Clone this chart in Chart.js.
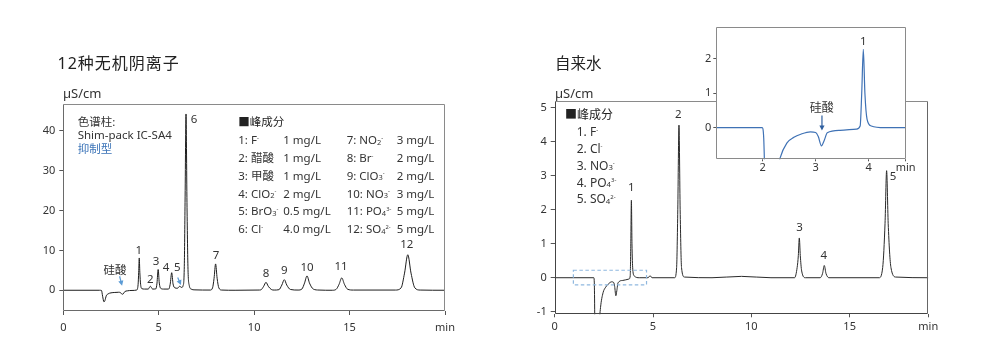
<!DOCTYPE html>
<html><head><meta charset="utf-8">
<script src="https://cdn.jsdelivr.net/npm/chart.js@4.4.1/dist/chart.umd.min.js"></script>
<style>
body{margin:0;width:981px;height:357px;background:#fff;position:relative;overflow:hidden;font-family:'Noto Sans','Noto Sans CJK SC',sans-serif;color:#333}
canvas{position:absolute}
.t{position:absolute;white-space:nowrap;line-height:1}
.sp{font-size:0.5em;position:relative;top:-0.75em}
.sb{font-size:0.65em;position:relative;top:0.05em}
</style></head><body>
<canvas id="cL" width="480" height="357" style="left:0;top:0"></canvas>
<canvas id="cR" width="470" height="357" style="left:490px;top:0"></canvas>
<canvas id="cI" width="262" height="170" style="left:680px;top:15px"></canvas>
<div id="overlay"></div>
<script>
// ---------------- DATA ----------------
// Left chromatogram: 12 inorganic anions (time in min, signal in µS/cm)
const leftTimes = [
  0, 1.9, 2.0, 2.06, 2.13, 2.18, 2.25, 2.35, 2.5, 2.7, 2.9, 3.0, 3.08, 3.14, 3.22, 3.35, 3.6,
  3.84, 3.92, 3.95, 3.98, 4.01, 4.05, 4.12, 4.25,
  4.45, 4.56, 4.68,
  4.85, 4.91, 4.97, 5.03, 5.1, 5.25,
  5.52, 5.6, 5.68, 5.75, 5.85,
  5.98, 6.1, 6.2,
  6.28, 6.34, 6.38, 6.43, 6.48, 6.53, 6.6, 6.7, 6.9,
  7.7, 7.82, 7.9, 7.98, 8.06, 8.15, 8.3,
  9.0, 10.2, 10.35, 10.5, 10.62, 10.74, 10.9,
  11.05, 11.3, 11.45, 11.58, 11.71, 11.9,
  12.3, 12.5, 12.64, 12.77, 12.9, 13.1, 13.4,
  14.1, 14.3, 14.45, 14.59, 14.73, 14.9, 15.2,
  17.4, 17.7, 17.88, 18.05, 18.22, 18.42, 18.7, 20
];
const leftSignal = [
  0, 0, -0.05, -1.5, -2.9, -2.6, -1.4, -0.9, -0.65, -0.55, -0.5, -0.6, -1.0, -0.9, -0.35, -0.15, -0.05,
  0.05, 1.5, 4.5, 8.1, 4.5, 1.5, 0.4, 0.3,
  0.3, 1.0, 0.3,
  0.35, 1.8, 5.2, 1.8, 0.5, 0.3,
  0.3, 1.5, 4.4, 1.6, 0.6,
  0.5, 1.0, 0.7,
  1.2, 6.0, 22, 44.2, 22, 6.0, 1.2, 0.3, 0.1,
  0.05, 0.6, 3.0, 6.6, 3.0, 0.6, 0.05,
  0, 0.05, 0.1, 1.0, 2.0, 1.0, 0.2,
  0.05, 0.15, 1.3, 2.65, 1.3, 0.2,
  0.05, 0.3, 1.8, 3.6, 1.8, 0.3, 0.05,
  0, 0.25, 1.5, 3.1, 1.5, 0.25, 0.05,
  0.05, 0.6, 4.3, 8.9, 4.3, 0.6, 0.05, 0
];
const leftPeakNumbers = ['1','2','3','4','5','6','7','8','9','10','11','12'];
const leftPeakTimes   = [3.98, 4.56, 4.97, 5.68, 6.1, 6.43, 7.98, 10.62, 11.58, 12.77, 14.59, 18.05];
const leftPeakHeights = [8.1, 1.0, 5.2, 4.4, 1.0, 44.2, 6.6, 2.0, 2.65, 3.6, 3.1, 8.9];
const leftXTicks = [0, 5, 10, 15, 20];
const leftYTicks = [0, 10, 20, 30, 40];
const leftIonsA = ['1: F<span class="sp">-</span>', '2: 醋酸', '3: 甲酸', '4: ClO<span class="sb">2</span><span class="sp">-</span>', '5: BrO<span class="sb">3</span><span class="sp">-</span>', '6: Cl<span class="sp">-</span>'];
const leftConcA = ['1 mg/L', '1 mg/L', '1 mg/L', '2 mg/L', '0.5 mg/L', '4.0 mg/L'];
const leftIonsB = ['7: NO<span class="sb">2</span><span class="sp">-</span>', '8: Br<span class="sp">-</span>', '9: ClO<span class="sb">3</span><span class="sp">-</span>', '10: NO<span class="sb">3</span><span class="sp">-</span>', '11: PO<span class="sb">4</span><span class="sp">3-</span>', '12: SO<span class="sb">4</span><span class="sp">2-</span>'];
const leftConcB = ['3 mg/L', '2 mg/L', '2 mg/L', '3 mg/L', '5 mg/L', '5 mg/L'];

// Right chromatogram: tap water
const rightTimes = [
  0, 1.99, 2.02, 2.06, 2.15, 2.25, 2.33, 2.46, 2.59, 2.72, 2.9, 3.0, 3.05, 3.11, 3.16, 3.22, 3.46, 3.77,
  3.84, 3.87, 3.9, 3.93, 3.97, 4.05, 4.3,
  4.75, 4.85, 4.95,
  6.1, 6.2, 6.26, 6.32, 6.38, 6.45, 6.6,
  8.0, 9.5, 11.0,
  12.2, 12.33, 12.39, 12.44, 12.49, 12.56, 12.75,
  13.5, 13.62, 13.71, 13.8, 13.95,
  16.5, 16.68, 16.8, 16.88, 16.96, 17.1, 17.35, 19
];
const rightSignal = [
  0, 0, -0.3, -2.5, -3.2, -1.5, -0.88, -0.44, -0.28, -0.19, -0.12, -0.14, -0.26, -0.53, -0.38, -0.15, -0.08, -0.04,
  0.05, 1.0, 2.28, 1.0, 0.25, 0.05, 0,
  0, 0.06, 0,
  0, 0.3, 2.0, 4.49, 2.0, 0.3, 0.02,
  0, 0.04, 0,
  0, 0.3, 0.65, 1.17, 0.65, 0.2, 0,
  0, 0.12, 0.36, 0.12, 0,
  0, 0.3, 1.6, 3.15, 1.6, 0.3, 0.02, 0
];
const rightPeakNumbers = ['1','2','3','4','5'];
const rightPeakTimes   = [3.9, 6.32, 12.44, 13.71, 16.88];
const rightPeakHeights = [2.28, 4.49, 1.17, 0.36, 3.15];
const rightXTicks = [0, 5, 10, 15, 19];
const rightYTicks = [-1, 0, 1, 2, 3, 4, 5];
const rightIons = ['1. F<span class="sp">-</span>', '2. Cl<span class="sp">-</span>', '3. NO<span class="sb">3</span><span class="sp">-</span>', '4. PO<span class="sb">4</span><span class="sp">3-</span>', '5. SO<span class="sb">4</span><span class="sp">2-</span>'];
const insetXTicks = [2, 3, 4, 4.7];
const insetYTicks = [0, 1, 2];

// ---------------- DRAWING ----------------
Chart.defaults.font.family = "'Noto Sans','Noto Sans CJK SC',sans-serif";
Chart.defaults.color = '#333';
Chart.defaults.animation = false;

const pts = (xs, ys) => xs.map((x, i) => ({x: x, y: ys[i]}));

const framePlugin = {
  id: 'frame',
  beforeDatasetsDraw(chart, args, o) {
    if (!o.fill) return;
    const a = chart.chartArea, ctx = chart.ctx;
    ctx.save(); ctx.fillStyle = o.fill;
    ctx.fillRect(a.left, a.top, a.right - a.left, a.bottom - a.top);
    ctx.restore();
  },
  afterDatasetsDraw(chart, args, o) {
    const a = chart.chartArea, ctx = chart.ctx;
    const L = Math.round(a.left) + 0.5, R = Math.round(a.right) - 0.5, T = Math.round(a.top) + 0.5, B = Math.round(a.bottom) - 0.5;
    const seg = (x1, y1, x2, y2, c) => { ctx.beginPath(); ctx.strokeStyle = c; ctx.moveTo(x1, y1); ctx.lineTo(x2, y2); ctx.stroke(); };
    ctx.save(); ctx.lineWidth = 1;
    seg(L, T, R, T, o.top); seg(R, T, R, B, o.right);
    seg(L, B, R, B, o.bottom); seg(L, T, L, B, o.left);
    ctx.restore();
  }
};

function arrow(ctx, x1, y1, x2, y2, color) {
  const ang = Math.atan2(y2 - y1, x2 - x1), hl = 5, hw = 2.6;
  ctx.save(); ctx.strokeStyle = color; ctx.fillStyle = color; ctx.lineWidth = 1.2;
  ctx.beginPath(); ctx.moveTo(x1, y1);
  ctx.lineTo(x2 - Math.cos(ang) * hl * 0.8, y2 - Math.sin(ang) * hl * 0.8); ctx.stroke();
  ctx.beginPath(); ctx.moveTo(x2, y2);
  ctx.lineTo(x2 - Math.cos(ang) * hl - Math.sin(ang) * hw, y2 - Math.sin(ang) * hl + Math.cos(ang) * hw);
  ctx.lineTo(x2 - Math.cos(ang) * hl + Math.sin(ang) * hw, y2 - Math.sin(ang) * hl - Math.cos(ang) * hw);
  ctx.closePath(); ctx.fill(); ctx.restore();
}

const annotPlugin = {
  id: 'annot',
  afterDatasetsDraw(chart, args, o) {
    const ctx = chart.ctx, xs = chart.scales.x, ys = chart.scales.y;
    ctx.save();
    if (o.rect) {
      const r = o.rect;
      const x1 = xs.getPixelForValue(r.x0), x2 = xs.getPixelForValue(r.x1);
      const y1 = ys.getPixelForValue(r.y1), y2 = ys.getPixelForValue(r.y0);
      ctx.setLineDash([3.5, 2.5]); ctx.strokeStyle = r.color; ctx.lineWidth = 1.2;
      ctx.strokeRect(x1, y1, x2 - x1, y2 - y1); ctx.setLineDash([]);
    }
    if (o.labels) {
      const l = o.labels;
      ctx.font = l.font; ctx.fillStyle = l.color; ctx.textAlign = 'center'; ctx.textBaseline = 'middle';
      l.texts.forEach((t, i) => {
        ctx.fillText(t, xs.getPixelForValue(l.times[i]) + l.dx[i], ys.getPixelForValue(l.values[i]) + l.dy[i]);
      });
    }
    (o.arrows || []).forEach(a => {
      const tx = xs.getPixelForValue(a.t) + a.tipDx, ty = ys.getPixelForValue(a.v) + a.tipDy;
      arrow(ctx, tx + a.fromDx, ty + a.fromDy, tx, ty, a.color);
    });
    ctx.restore();
  }
};

function xAxis(min, max, ticks, minLabelAt, height, tickLen, pad) {
  return {
    type: 'linear', min: min, max: max,
    afterBuildTicks: s => { s.ticks = ticks.map(v => ({value: v})); },
    afterFit: s => { s.height = height; },
    ticks: {autoSkip: false, maxRotation: 0, padding: pad, font: {size: 11}, color: '#333',
      callback: v => (v === minLabelAt ? 'min' : String(v))},
    grid: {drawOnChartArea: false, drawTicks: true, tickLength: tickLen, color: '#555', lineWidth: 1},
    border: {display: false}
  };
}
function yAxis(min, max, ticks, width, tickLen, pad) {
  return {
    type: 'linear', min: min, max: max,
    afterBuildTicks: s => { s.ticks = ticks.map(v => ({value: v})); },
    afterFit: s => { s.width = width; },
    ticks: {autoSkip: false, padding: pad, font: {size: 11}, color: '#333', callback: v => String(v)},
    grid: {drawOnChartArea: false, drawTicks: true, tickLength: tickLen, color: '#555', lineWidth: 1},
    border: {display: false}
  };
}
function lineDS(xs, ys, color, w) {
  return {data: pts(xs, ys), borderColor: color, borderWidth: w, pointRadius: 0,
    cubicInterpolationMode: 'monotone', fill: false};
}

// Left chart
new Chart(document.getElementById('cL'), {
  type: 'line',
  data: {datasets: [lineDS(leftTimes, leftSignal, '#1e1e1e', 1)]},
  plugins: [framePlugin, annotPlugin],
  options: {
    responsive: false, devicePixelRatio: 1,
    layout: {padding: {top: 104, right: 35, left: 0, bottom: 0}},
    scales: {
      x: xAxis(0, 20, leftXTicks, 20, 46, 4, 6),
      y: yAxis(-5.2, 46.7, leftYTicks, 63.3, 4, 4)
    },
    plugins: {
      legend: {display: false}, tooltip: {enabled: false},
      frame: {top: '#8a8a8a', right: '#8a8a8a', bottom: '#6a6a6a', left: '#6a6a6a'},
      annot: {
        labels: {font: "11.5px 'Noto Sans'", color: '#333', texts: leftPeakNumbers, times: leftPeakTimes, values: leftPeakHeights,
          dx: [-0.5, 0, -2, -5.7, -2.4, 8, 0.5, 0, 0, 0, -0.7, -1],
          dy: [-7.5, -6.5, -8, -5, -18.6, 5.4, -8.3, -9, -9, -8.6, -11, -9.8]},
        arrows: [
          {t: 3.08, v: -1.0, tipDx: 0, tipDy: -8.5, fromDx: -2.5, fromDy: -9.5, color: '#5b9bd5'},
          {t: 6.1, v: 1.0, tipDx: 1.3, tipDy: -1.2, fromDx: -3.3, fromDy: -7.5, color: '#5b9bd5'}
        ]
      }
    }
  }
});

// Right chart
new Chart(document.getElementById('cR'), {
  type: 'line',
  data: {datasets: [lineDS(rightTimes, rightSignal, '#2a2a2a', 1)]},
  plugins: [framePlugin, annotPlugin],
  options: {
    responsive: false, devicePixelRatio: 1,
    layout: {padding: {top: 101, right: 31.7, left: 0, bottom: 0}},
    scales: {
      x: xAxis(0, 19, rightXTicks, 19, 42.7, 3, 3),
      y: yAxis(-1.076, 5.2, rightYTicks, 64.7, 4, 4)
    },
    plugins: {
      legend: {display: false}, tooltip: {enabled: false},
      frame: {top: '#8a8a8a', right: '#666', bottom: '#444', left: '#444'},
      annot: {
        rect: {x0: 0.95, x1: 4.67, y0: -0.21, y1: 0.22, color: '#8fb8df'},
        labels: {font: "11.5px 'Noto Sans'", color: '#333', texts: rightPeakNumbers, times: rightPeakTimes, values: rightPeakHeights,
          dx: [0, -0.8, 0.2, -0.4, 6.3], dy: [-12.5, -10.7, -10.2, -9.5, 6]}
      }
    }
  }
});

// Inset
new Chart(document.getElementById('cI'), {
  type: 'line',
  data: {datasets: [lineDS(rightTimes, rightSignal, '#3f72b5', 1.2)]},
  plugins: [framePlugin, annotPlugin],
  options: {
    responsive: false, devicePixelRatio: 1,
    layout: {padding: {top: 12.3, right: 36.3, left: 0, bottom: 0}},
    scales: {
      x: xAxis(1.125, 4.7, insetXTicks, 4.7, 25.7, 2, 0),
      y: yAxis(-0.92, 2.92, insetYTicks, 36.3, 3, 2)
    },
    plugins: {
      legend: {display: false}, tooltip: {enabled: false},
      frame: {fill: '#fff', top: '#8a8a8a', right: '#8a8a8a', bottom: '#8a8a8a', left: '#8a8a8a'},
      annot: {
        labels: {font: "11.5px 'Noto Sans'", color: '#333', texts: ['1'], times: [rightPeakTimes[0]], values: [rightPeakHeights[0]], dx: [0], dy: [-8]},
        arrows: [{t: 3.11, v: -0.53, tipDx: 0.5, tipDy: -15.5, fromDx: 0, fromDy: -15, color: '#2f5f9f'}]
      }
    }
  }
});

// ---------------- TEXT OVERLAYS ----------------
const ov = document.getElementById('overlay');
function txt(html, left, top, size, color, extra) {
  const d = document.createElement('div');
  d.className = 't'; d.innerHTML = html;
  d.style.left = left + 'px'; d.style.top = top + 'px'; d.style.fontSize = size + 'px';
  if (color) d.style.color = color;
  if (extra) Object.assign(d.style, extra);
  ov.appendChild(d); return d;
}
txt('12种无机阴离子', 57.5, 55, 16, '#222', {letterSpacing: '1px'});
txt('自来水', 555, 55.5, 15.5, '#222');
txt('µS/cm', 63, 87, 13, '#333');
txt('µS/cm', 555, 87, 13, '#333');
txt('色谱柱:', 77.7, 116, 11.5, '#333');
txt('Shim-pack IC-SA4', 77.7, 128.7, 11.5, '#333');
txt('抑制型', 77.7, 142.6, 11.5, '#3c74b8');
txt('硅酸', 103.5, 264, 11.5, '#333');
txt('硅酸', 809.7, 101.5, 12, '#333');

// Left legend
txt('■峰成分', 238.3, 115.5, 11.5, '#222');
for (let i = 0; i < leftIonsA.length; i++) {
  const top = 134.2 + i * 17.8;
  txt(leftIonsA[i], 238.3, top, 11.5, '#333');
  txt(leftConcA[i], 283.3, top, 11.5, '#333');
  txt(leftIonsB[i], 346.7, top, 11.5, '#333');
  txt(leftConcB[i], 396.7, top, 11.5, '#333');
}
// Right legend
txt('■峰成分', 565, 109.4, 12, '#222');
for (let i = 0; i < rightIons.length; i++) {
  txt(rightIons[i], 576.7, 126 + i * 16.85, 12, '#333');
}
</script>
</body></html>
